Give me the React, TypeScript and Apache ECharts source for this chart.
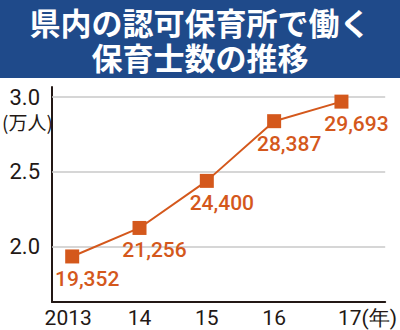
import React, { useEffect, useRef } from "react";
import * as echarts from "echarts";

const titleLines = ["県内の認可保育所で働く", "保育士数の推移"];
const years = [2013, 2014, 2015, 2016, 2017];
const workers = [19352, 21256, 24400, 28387, 29693];
const yTicks = [2.0, 2.5, 3.0];
const unitLabel = "(万人)";
const yearUnit = "(年)";

const ORANGE = "#d4581c";
const INK = "#231815";
const NARROW = "Roboto, sans-serif";
const FS = 21;

export default function App() {
  const ref = useRef<HTMLDivElement>(null);
  useEffect(() => {
    document.body.style.margin = "0";
    const chart = echarts.init(ref.current!, null, { renderer: "svg" });
    const data = years.map((y, i) => [y, workers[i] / 10000, workers[i]]);
    const titleStyle = {
      color: "#ffffff",
      fontSize: 31,
      fontWeight: "bold",
      lineHeight: 31,
      fontFamily: "'Noto Sans CJK JP', sans-serif",
    };
    chart.setOption({
      animation: false,
      backgroundColor: "#ffffff",
      title: titleLines.map((t, i) => ({
        text: t,
        left: "center",
        top: i === 0 ? 6 : 41,
        padding: 0,
        textStyle: titleStyle,
      })),
      graphic: [
        {
          type: "rect",
          left: 0,
          top: 0,
          z: -1,
          shape: { width: 400, height: 78 },
          style: { fill: "#1f4a8a" },
        },
        {
          type: "text",
          left: 2,
          top: 112,
          style: {
            text: unitLabel,
            fill: INK,
            font: "19px 'Noto Sans CJK JP', sans-serif",
          },
        },
      ],
      grid: { left: 52, right: 0, top: 87, bottom: 28 },
      xAxis: {
        type: "value",
        min: 2012.7,
        max: 2017.65,
        axisLine: { show: true, lineStyle: { color: INK, width: 2 } },
        axisTick: { show: false },
        splitLine: { show: false },
        axisLabel: {
          customValues: years,
          margin: 5,
          color: INK,
          fontSize: FS,
          fontFamily: NARROW,
          formatter: (v: number) => {
            if (v === years[0]) return "{a|" + v + "}";
            if (v === years[years.length - 1]) return "{b|" + String(v).slice(2) + yearUnit + "}";
            return String(v).slice(2);
          },
          rich: {
            a: { fontSize: FS, fontFamily: NARROW, color: INK, padding: [0, 8, 0, 0] },
            b: { fontSize: FS, fontFamily: NARROW, color: INK, padding: [0, 0, 0, 52] },
          },
        },
      },
      yAxis: {
        type: "value",
        min: 1.631,
        max: 3.067,
        axisLine: { show: true, lineStyle: { color: INK, width: 2 } },
        axisTick: { show: false },
        splitLine: { show: false },
        axisLabel: {
          customValues: yTicks,
          margin: 12,
          color: INK,
          fontSize: 22,
          fontFamily: NARROW,
          formatter: (v: number) => v.toFixed(1),
        },
      },
      series: [
        {
          type: "line",
          data,
          z: 3,
          symbol: "rect",
          symbolSize: 14,
          itemStyle: { color: ORANGE },
          lineStyle: { color: ORANGE, width: 2 },
          label: {
            show: true,
            position: "bottom",
            offset: [15, 0],
            color: ORANGE,
            fontSize: FS,
            fontWeight: 500,
            fontFamily: NARROW,
            formatter: (p: any) => p.value[2].toLocaleString("en-US"),
          },
          markLine: {
            silent: true,
            symbol: "none",
            z: 1,
            label: { show: false },
            lineStyle: { color: "#c9c9c9", width: 1.5, type: "solid" },
            data: yTicks.map((t) => ({ yAxis: t })),
          },
        },
      ],
    });
    return () => chart.dispose();
  }, []);
  return <div ref={ref} style={{ width: 400, height: 330 }} />;
}
